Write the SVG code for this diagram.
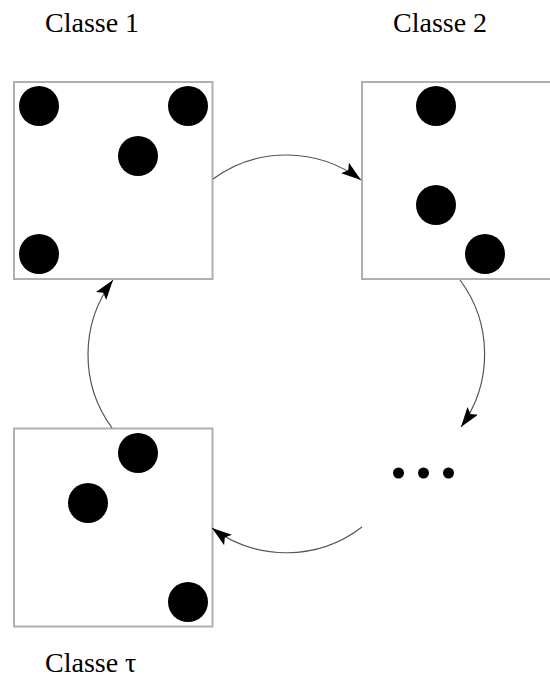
<svg xmlns="http://www.w3.org/2000/svg" width="550" height="679" viewBox="0 0 550 679">
<style>
.box{fill:#fff;stroke:#b0b0b0;stroke-width:2}
.dot{fill:#000}
.lbl{font-family:"Liberation Serif",serif;font-size:28px;fill:#000}
.arc{fill:none;stroke:#555;stroke-width:1.2;marker-end:url(#ah)}
</style>
<defs>
<marker id="ah" markerUnits="userSpaceOnUse" markerWidth="22" markerHeight="14" refX="20" refY="6.5" orient="auto">
<path d="M0,0 L20,6.5 L0,13 L4,6.5 z" fill="#000"/>
</marker>
</defs>
<rect width="550" height="679" fill="#fff"/>
<g id="classe1">
<text class="lbl" x="45" y="32">Classe 1</text>
<rect class="box" x="14" y="82" width="198.5" height="197"/>
<circle class="dot" cx="39" cy="106" r="20"/>
<circle class="dot" cx="188" cy="106" r="20"/>
<circle class="dot" cx="138" cy="156" r="20"/>
<circle class="dot" cx="39" cy="254" r="20"/>
</g>
<g id="classe2">
<text class="lbl" x="393" y="32">Classe 2</text>
<rect class="box" x="362" y="82" width="198" height="197"/>
<circle class="dot" cx="436" cy="106" r="20"/>
<circle class="dot" cx="436" cy="205" r="20"/>
<circle class="dot" cx="485" cy="254" r="20"/>
</g>
<g id="classetau">
<text class="lbl" x="45" y="672">Classe τ</text>
<rect class="box" x="14" y="428.5" width="198.5" height="198"/>
<circle class="dot" cx="138" cy="453" r="20"/>
<circle class="dot" cx="88" cy="503" r="20"/>
<circle class="dot" cx="188" cy="602" r="20"/>
</g>
<g id="ellipsis">
<circle class="dot" cx="398.5" cy="473" r="5.5"/>
<circle class="dot" cx="423.5" cy="473" r="5.5"/>
<circle class="dot" cx="448.5" cy="473" r="5.5"/>
</g>
<g id="connectors">
<path class="arc" d="M213,179 A124,124 0 0 1 361,180"/>
<path class="arc" d="M460,280 A124,124 0 0 1 461,427"/>
<path class="arc" d="M362,527 A124,124 0 0 1 212,528"/>
<path class="arc" d="M112,428 A124,124 0 0 1 113,280"/>
</g>
</svg>
